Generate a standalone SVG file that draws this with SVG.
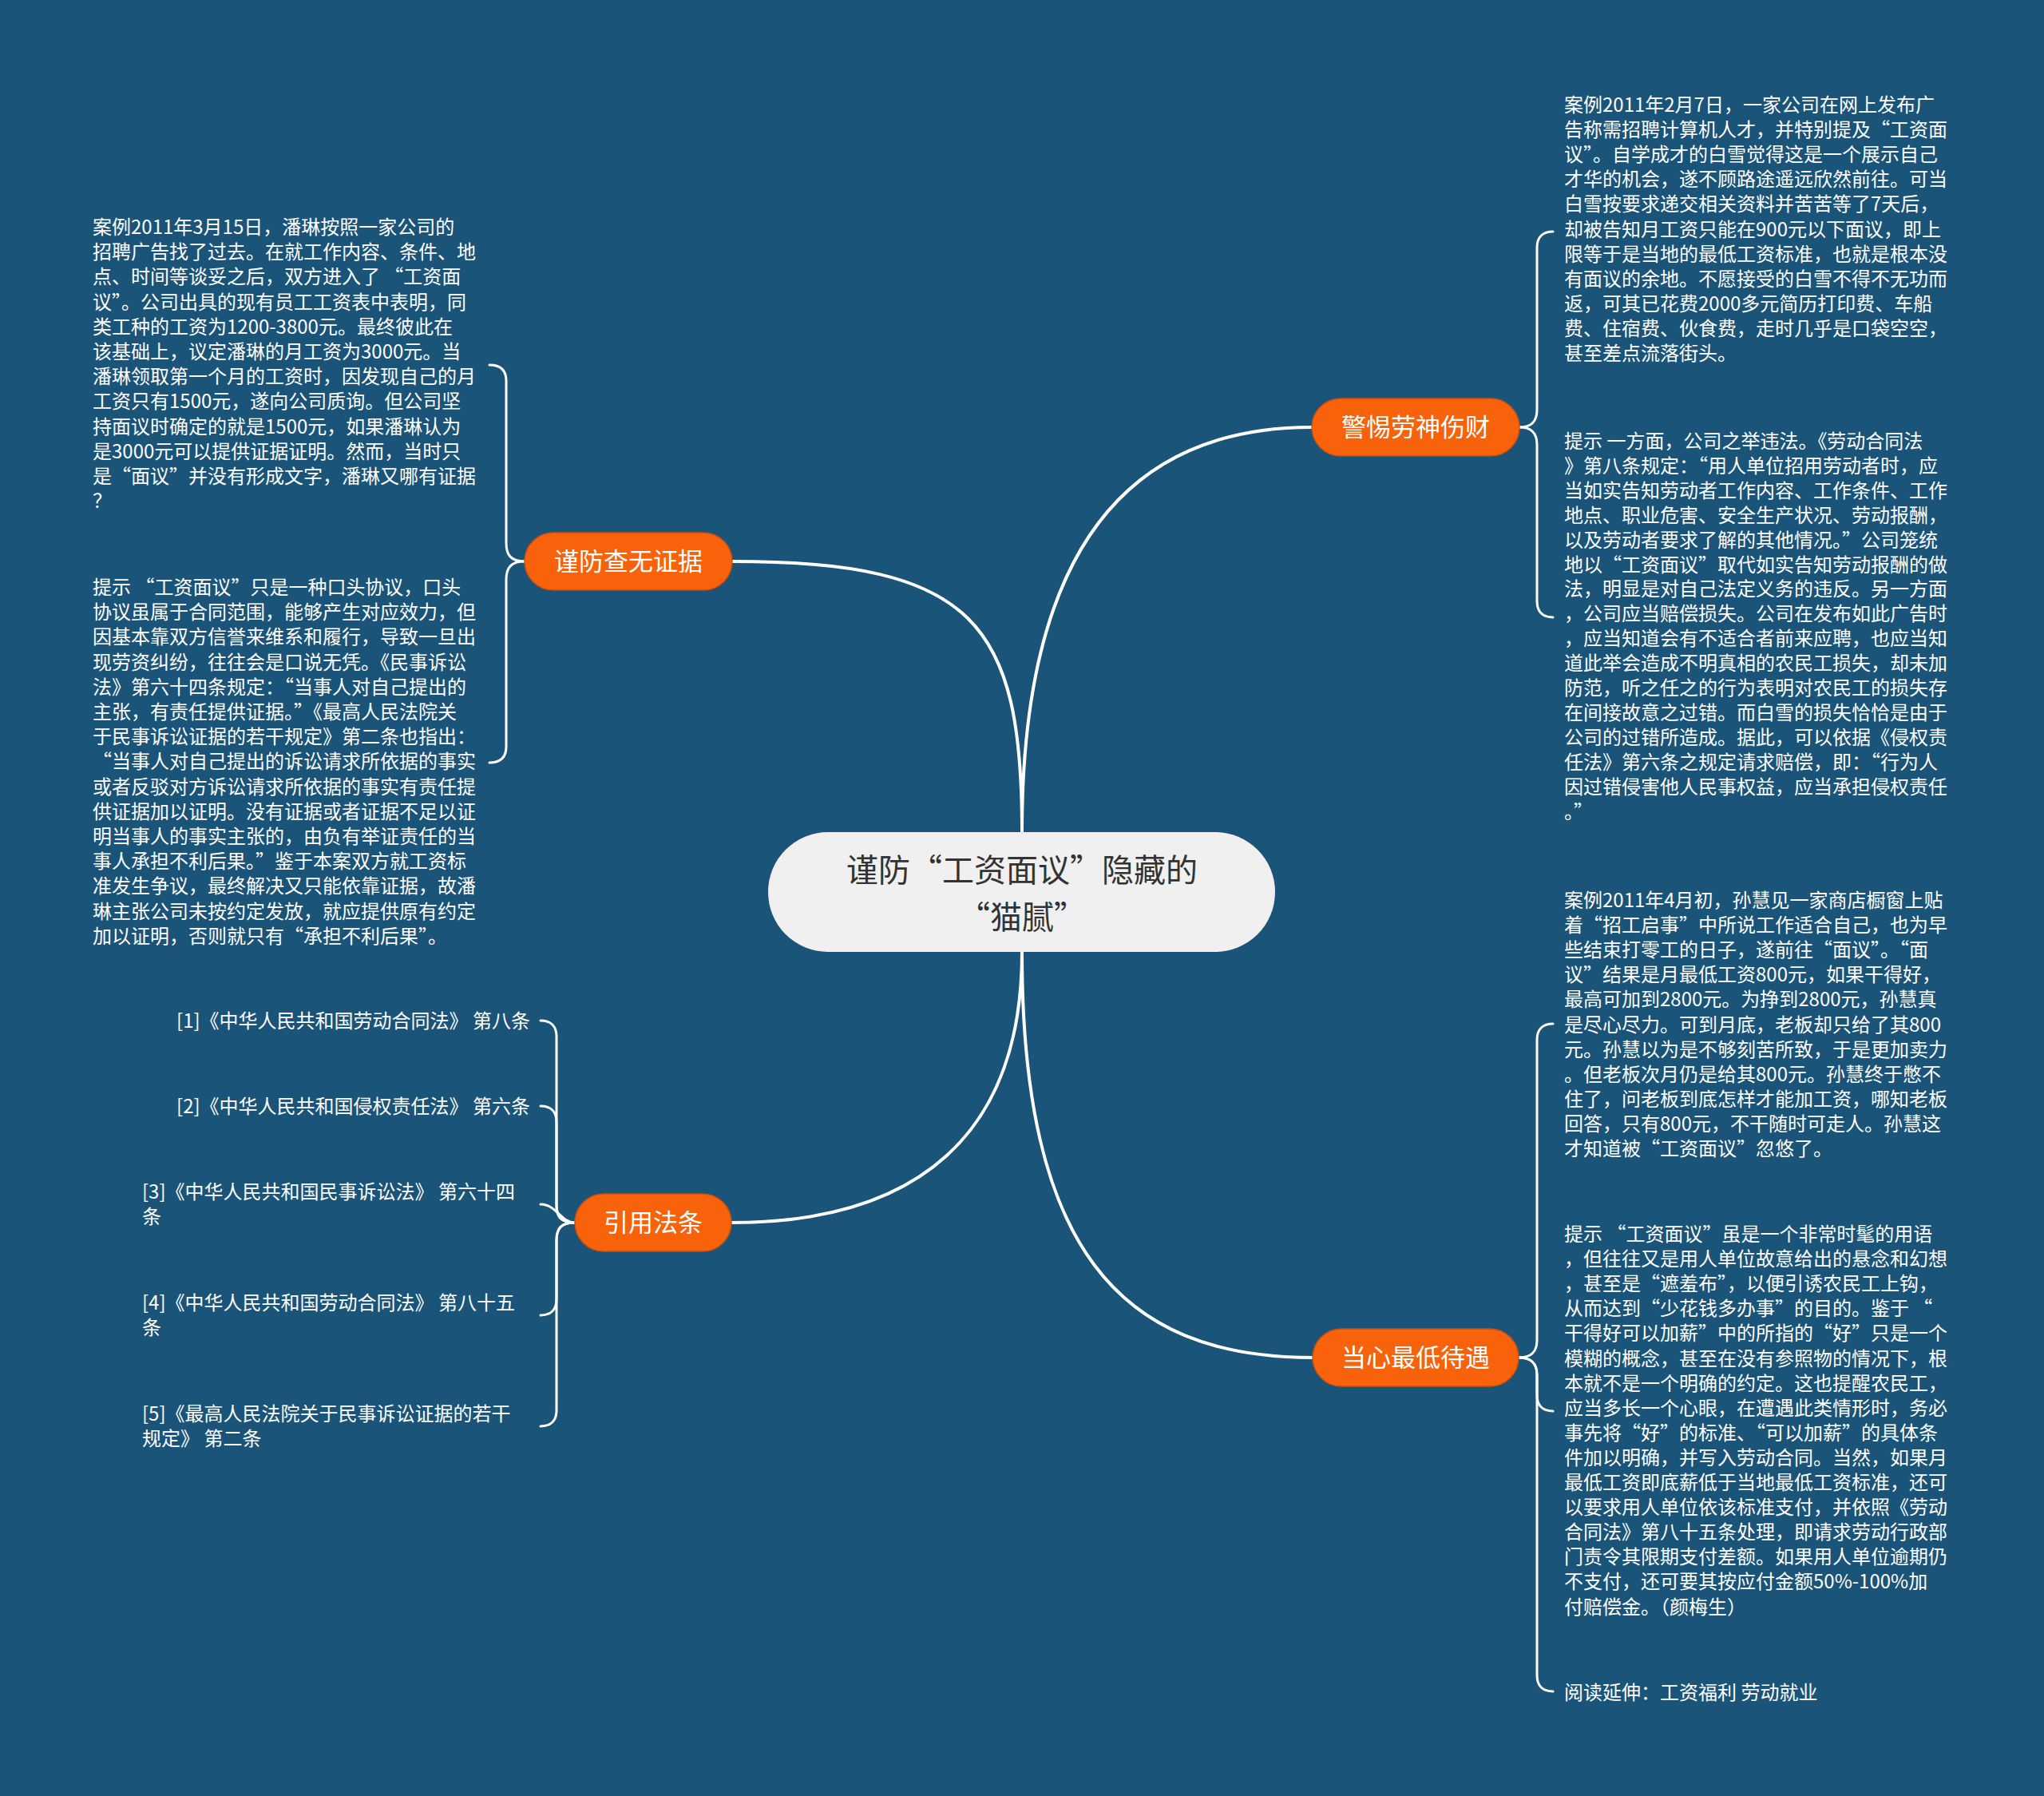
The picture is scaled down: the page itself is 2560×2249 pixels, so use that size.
<svg xmlns="http://www.w3.org/2000/svg" width="2560" height="2249" viewBox="0 0 2560 2249">
<style>
.bg{fill:#1b5479}
.conn{fill:none;stroke:#ffffff;stroke-width:4;stroke-linecap:round}
.br{fill:none;stroke:#ffffff;stroke-width:3;stroke-linecap:round}
.center{fill:#f0f0f0}
.ctext{font-family:"Noto Sans CJK SC","Liberation Sans",sans-serif;font-size:40px;fill:#333333;text-anchor:middle}
.branch{fill:#f7620a;stroke:#c95010;stroke-width:1.5}
.btext{font-family:"Noto Sans CJK SC","Liberation Sans",sans-serif;font-size:31px;fill:#ffffff;text-anchor:middle}
.leaf{font-family:"Noto Sans CJK SC","Liberation Sans",sans-serif;font-size:24px;fill:#ffffff}
</style>
<rect class="bg" x="0" y="0" width="2560" height="2249"/>
<g id="connectors">
<path class="conn" d="M1280 1042 C1280 780 1220 703 917 703"/>
<path class="conn" d="M1280 1042 C1280 720 1390 535 1643 535"/>
<path class="conn" d="M1280 1192 C1280 1420 1150 1531 916 1531"/>
<path class="conn" d="M1280 1192 C1280 1560 1400 1700 1644 1700"/>
<path class="br" d="M657 703 C640 703 634 695 634 680 L634 477 C634 463 626 457 613 457"/>
<path class="br" d="M657 703 C640 703 634 711 634 726 L634 935 C634 949 626 955 613 955"/>
<path class="br" d="M1903 535 C1918 535 1925 528 1925 513 L1925 310 C1925 296 1933 290 1945 290"/>
<path class="br" d="M1903 535 C1918 535 1925 542 1925 557 L1925 753 C1925 767 1933 773 1945 773"/>
<path class="br" d="M1902 1700 C1918 1700 1925 1693 1925 1678 L1925 1302 C1925 1288 1933 1282 1945 1282"/>
<path class="br" d="M1902 1700 C1918 1700 1925 1707 1925 1722 L1925 1747 C1925 1761 1933 1767 1945 1767"/>
<path class="br" d="M1902 1700 C1918 1700 1925 1707 1925 1722 L1925 2098 C1925 2112 1933 2118 1945 2118"/>
<path class="br" d="M720 1531 C703 1531 697 1524 697 1509 L697 1298 C697 1284 689 1278 677 1278"/>
<path class="br" d="M720 1531 C703 1531 697 1524 697 1509 L697 1405 C697 1391 689 1385 677 1385"/>
<path class="br" d="M720 1531 C702 1531 697 1508 677 1508"/>
<path class="br" d="M720 1531 C703 1531 697 1538 697 1553 L697 1627 C697 1641 689 1647 677 1647"/>
<path class="br" d="M720 1531 C703 1531 697 1538 697 1553 L697 1766 C697 1780 689 1786 677 1786"/>
</g>
<g id="center-node">
<rect class="center" x="962" y="1042" width="635" height="150" rx="75"/>
<text class="ctext" x="1280" y="1104">谨防“工资面议”隐藏的</text>
<text class="ctext" x="1280" y="1163">“猫腻”</text>
</g>
<g id="node-jinfang">
<rect class="branch" x="657" y="667" width="260" height="72" rx="36"/>
<text class="btext" x="787" y="714">谨防查无证据</text>
</g>
<g id="node-jingti">
<rect class="branch" x="1643" y="499" width="260" height="72" rx="36"/>
<text class="btext" x="1773" y="546">警惕劳神伤财</text>
</g>
<g id="node-yinyong">
<rect class="branch" x="720" y="1495" width="196" height="72" rx="36"/>
<text class="btext" x="818" y="1542">引用法条</text>
</g>
<g id="node-dangxin">
<rect class="branch" x="1644" y="1664" width="258" height="72" rx="36"/>
<text class="btext" x="1773" y="1711">当心最低待遇</text>
</g>
<g id="leaf-left-case">
<text class="leaf" x="116" y="293"><tspan x="116" dy="0">案例2011年3月15日，潘琳按照一家公司的</tspan><tspan x="116" dy="31.2">招聘广告找了过去。在就工作内容、条件、地</tspan><tspan x="116" dy="31.2">点、时间等谈妥之后，双方进入了 “工资面</tspan><tspan x="116" dy="31.2">议”。公司出具的现有员工工资表中表明，同</tspan><tspan x="116" dy="31.2">类工种的工资为1200-3800元。最终彼此在</tspan><tspan x="116" dy="31.2">该基础上，议定潘琳的月工资为3000元。当</tspan><tspan x="116" dy="31.2">潘琳领取第一个月的工资时，因发现自己的月</tspan><tspan x="116" dy="31.2">工资只有1500元，遂向公司质询。但公司坚</tspan><tspan x="116" dy="31.2">持面议时确定的就是1500元，如果潘琳认为</tspan><tspan x="116" dy="31.2">是3000元可以提供证据证明。然而，当时只</tspan><tspan x="116" dy="31.2">是“面议”并没有形成文字，潘琳又哪有证据</tspan><tspan x="116" dy="31.2">？</tspan></text>
</g>
<g id="leaf-left-tip">
<text class="leaf" x="116" y="744"><tspan x="116" dy="0">提示 “工资面议”只是一种口头协议，口头</tspan><tspan x="116" dy="31.2">协议虽属于合同范围，能够产生对应效力，但</tspan><tspan x="116" dy="31.2">因基本靠双方信誉来维系和履行，导致一旦出</tspan><tspan x="116" dy="31.2">现劳资纠纷，往往会是口说无凭。《民事诉讼</tspan><tspan x="116" dy="31.2">法》第六十四条规定：“当事人对自己提出的</tspan><tspan x="116" dy="31.2">主张，有责任提供证据。”《最高人民法院关</tspan><tspan x="116" dy="31.2">于民事诉讼证据的若干规定》第二条也指出：</tspan><tspan x="116" dy="31.2">“当事人对自己提出的诉讼请求所依据的事实</tspan><tspan x="116" dy="31.2">或者反驳对方诉讼请求所依据的事实有责任提</tspan><tspan x="116" dy="31.2">供证据加以证明。没有证据或者证据不足以证</tspan><tspan x="116" dy="31.2">明当事人的事实主张的，由负有举证责任的当</tspan><tspan x="116" dy="31.2">事人承担不利后果。”鉴于本案双方就工资标</tspan><tspan x="116" dy="31.2">准发生争议，最终解决又只能依靠证据，故潘</tspan><tspan x="116" dy="31.2">琳主张公司未按约定发放，就应提供原有约定</tspan><tspan x="116" dy="31.2">加以证明，否则就只有“承担不利后果”。</tspan></text>
</g>
<g id="leaf-ref1"><text class="leaf" x="664" y="1287" text-anchor="end">[1]《中华人民共和国劳动合同法》 第八条</text></g>
<g id="leaf-ref2"><text class="leaf" x="664" y="1394" text-anchor="end">[2]《中华人民共和国侵权责任法》 第六条</text></g>
<g id="leaf-ref3"><text class="leaf" x="178" y="1501"><tspan x="178" dy="0">[3]《中华人民共和国民事诉讼法》 第六十四</tspan><tspan x="178" dy="31.2">条</tspan></text></g>
<g id="leaf-ref4"><text class="leaf" x="178" y="1640"><tspan x="178" dy="0">[4]《中华人民共和国劳动合同法》 第八十五</tspan><tspan x="178" dy="31.2">条</tspan></text></g>
<g id="leaf-ref5"><text class="leaf" x="178" y="1779"><tspan x="178" dy="0">[5]《最高人民法院关于民事诉讼证据的若干</tspan><tspan x="178" dy="31.2">规定》 第二条</tspan></text></g>
<g id="leaf-right-case1">
<text class="leaf" x="1959" y="140"><tspan x="1959" dy="0">案例2011年2月7日，一家公司在网上发布广</tspan><tspan x="1959" dy="31.1">告称需招聘计算机人才，并特别提及“工资面</tspan><tspan x="1959" dy="31.1">议”。自学成才的白雪觉得这是一个展示自己</tspan><tspan x="1959" dy="31.1">才华的机会，遂不顾路途遥远欣然前往。可当</tspan><tspan x="1959" dy="31.1">白雪按要求递交相关资料并苦苦等了7天后，</tspan><tspan x="1959" dy="31.1">却被告知月工资只能在900元以下面议，即上</tspan><tspan x="1959" dy="31.1">限等于是当地的最低工资标准，也就是根本没</tspan><tspan x="1959" dy="31.1">有面议的余地。不愿接受的白雪不得不无功而</tspan><tspan x="1959" dy="31.1">返，可其已花费2000多元简历打印费、车船</tspan><tspan x="1959" dy="31.1">费、住宿费、伙食费，走时几乎是口袋空空，</tspan><tspan x="1959" dy="31.1">甚至差点流落街头。</tspan></text>
</g>
<g id="leaf-right-tip1">
<text class="leaf" x="1959" y="561"><tspan x="1959" dy="0">提示 一方面，公司之举违法。《劳动合同法</tspan><tspan x="1959" dy="30.9">》第八条规定：“用人单位招用劳动者时，应</tspan><tspan x="1959" dy="30.9">当如实告知劳动者工作内容、工作条件、工作</tspan><tspan x="1959" dy="30.9">地点、职业危害、安全生产状况、劳动报酬，</tspan><tspan x="1959" dy="30.9">以及劳动者要求了解的其他情况。”公司笼统</tspan><tspan x="1959" dy="30.9">地以“工资面议”取代如实告知劳动报酬的做</tspan><tspan x="1959" dy="30.9">法，明显是对自己法定义务的违反。另一方面</tspan><tspan x="1959" dy="30.9">，公司应当赔偿损失。公司在发布如此广告时</tspan><tspan x="1959" dy="30.9">，应当知道会有不适合者前来应聘，也应当知</tspan><tspan x="1959" dy="30.9">道此举会造成不明真相的农民工损失，却未加</tspan><tspan x="1959" dy="30.9">防范，听之任之的行为表明对农民工的损失存</tspan><tspan x="1959" dy="30.9">在间接故意之过错。而白雪的损失恰恰是由于</tspan><tspan x="1959" dy="30.9">公司的过错所造成。据此，可以依据《侵权责</tspan><tspan x="1959" dy="30.9">任法》第六条之规定请求赔偿，即：“行为人</tspan><tspan x="1959" dy="30.9">因过错侵害他人民事权益，应当承担侵权责任</tspan><tspan x="1959" dy="30.9">。”</tspan></text>
</g>
<g id="leaf-right-case2">
<text class="leaf" x="1959" y="1136"><tspan x="1959" dy="0">案例2011年4月初，孙慧见一家商店橱窗上贴</tspan><tspan x="1959" dy="31.1">着“招工启事”中所说工作适合自己，也为早</tspan><tspan x="1959" dy="31.1">些结束打零工的日子，遂前往“面议”。“面</tspan><tspan x="1959" dy="31.1">议”结果是月最低工资800元，如果干得好，</tspan><tspan x="1959" dy="31.1">最高可加到2800元。为挣到2800元，孙慧真</tspan><tspan x="1959" dy="31.1">是尽心尽力。可到月底，老板却只给了其800</tspan><tspan x="1959" dy="31.1">元。孙慧以为是不够刻苦所致，于是更加卖力</tspan><tspan x="1959" dy="31.1">。但老板次月仍是给其800元。孙慧终于憋不</tspan><tspan x="1959" dy="31.1">住了，问老板到底怎样才能加工资，哪知老板</tspan><tspan x="1959" dy="31.1">回答，只有800元，不干随时可走人。孙慧这</tspan><tspan x="1959" dy="31.1">才知道被“工资面议”忽悠了。</tspan></text>
</g>
<g id="leaf-right-tip2">
<text class="leaf" x="1959" y="1554"><tspan x="1959" dy="0">提示 “工资面议”虽是一个非常时髦的用语</tspan><tspan x="1959" dy="31.1">，但往往又是用人单位故意给出的悬念和幻想</tspan><tspan x="1959" dy="31.1">，甚至是“遮羞布”，以便引诱农民工上钩，</tspan><tspan x="1959" dy="31.1">从而达到“少花钱多办事”的目的。鉴于 “</tspan><tspan x="1959" dy="31.1">干得好可以加薪”中的所指的“好”只是一个</tspan><tspan x="1959" dy="31.1">模糊的概念，甚至在没有参照物的情况下，根</tspan><tspan x="1959" dy="31.1">本就不是一个明确的约定。这也提醒农民工，</tspan><tspan x="1959" dy="31.1">应当多长一个心眼，在遭遇此类情形时，务必</tspan><tspan x="1959" dy="31.1">事先将“好”的标准、“可以加薪”的具体条</tspan><tspan x="1959" dy="31.1">件加以明确，并写入劳动合同。当然，如果月</tspan><tspan x="1959" dy="31.1">最低工资即底薪低于当地最低工资标准，还可</tspan><tspan x="1959" dy="31.1">以要求用人单位依该标准支付，并依照《劳动</tspan><tspan x="1959" dy="31.1">合同法》第八十五条处理，即请求劳动行政部</tspan><tspan x="1959" dy="31.1">门责令其限期支付差额。如果用人单位逾期仍</tspan><tspan x="1959" dy="31.1">不支付，还可要其按应付金额50%-100%加</tspan><tspan x="1959" dy="31.1">付赔偿金。（颜梅生）</tspan></text>
</g>
<g id="leaf-right-read">
<text class="leaf" x="1959" y="2128">阅读延伸：工资福利 劳动就业</text>
</g>
</svg>
